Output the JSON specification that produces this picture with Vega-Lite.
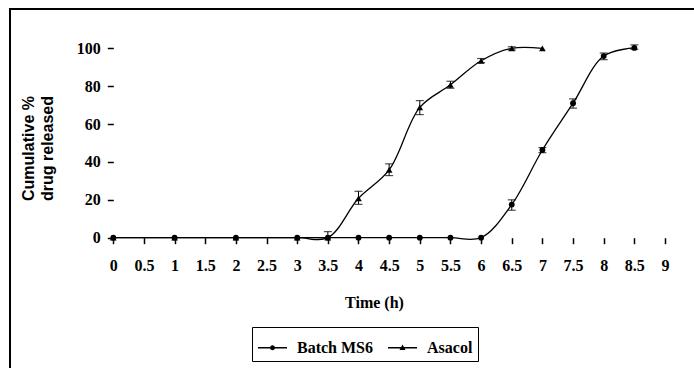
{
  "$schema": "https://vega.github.io/schema/vega-lite/v6.json",
  "width": 684,
  "height": 359,
  "padding": {"left": 10, "top": 9, "right": 0, "bottom": 0},
  "autosize": {"type": "none"},
  "background": "white",
  "config": {
    "font": "Liberation Serif",
    "view": {"stroke": "black", "strokeWidth": 2, "strokeDash": [684, 1043, 359]},
    "axis": {
      "grid": false,
      "domain": false,
      "tickColor": "black",
      "tickWidth": 1.5,
      "tickSize": 6,
      "labelColor": "black",
      "labelFont": "Liberation Serif",
      "labelFontWeight": "bold",
      "labelFontSize": 16,
      "titleColor": "black",
      "titleFontWeight": "bold"
    },
    "legend": {
      "labelFont": "Liberation Serif",
      "labelFontWeight": "bold",
      "labelFontSize": 16,
      "labelColor": "black"
    }
  },
  "datasets": {
    "release": [
      {"series": "Batch MS6", "time": 0, "value": 0, "lo": null, "hi": null},
      {"series": "Batch MS6", "time": 1, "value": 0, "lo": null, "hi": null},
      {"series": "Batch MS6", "time": 2, "value": 0, "lo": null, "hi": null},
      {"series": "Batch MS6", "time": 3, "value": 0, "lo": null, "hi": null},
      {"series": "Batch MS6", "time": 3.5, "value": 0, "lo": null, "hi": null},
      {"series": "Batch MS6", "time": 4, "value": 0, "lo": null, "hi": null},
      {"series": "Batch MS6", "time": 4.5, "value": 0, "lo": null, "hi": null},
      {"series": "Batch MS6", "time": 5, "value": 0, "lo": null, "hi": null},
      {"series": "Batch MS6", "time": 5.5, "value": 0, "lo": null, "hi": null},
      {"series": "Batch MS6", "time": 6, "value": 0, "lo": null, "hi": null},
      {"series": "Batch MS6", "time": 6.5, "value": 17.5, "lo": 14.5, "hi": 20},
      {"series": "Batch MS6", "time": 7, "value": 46.3, "lo": 44.9, "hi": 47.6},
      {"series": "Batch MS6", "time": 7.5, "value": 71, "lo": 68.4, "hi": 73.3},
      {"series": "Batch MS6", "time": 8, "value": 95.9, "lo": 94, "hi": 97.5},
      {"series": "Batch MS6", "time": 8.5, "value": 100.2, "lo": 99.5, "hi": 101.8},
      {"series": "Asacol", "time": 0, "value": 0, "lo": null, "hi": null},
      {"series": "Asacol", "time": 1, "value": 0, "lo": null, "hi": null},
      {"series": "Asacol", "time": 2, "value": 0, "lo": null, "hi": null},
      {"series": "Asacol", "time": 3, "value": 0, "lo": null, "hi": null},
      {"series": "Asacol", "time": 3.5, "value": 0, "lo": 0, "hi": 3.2},
      {"series": "Asacol", "time": 4, "value": 20.8, "lo": 17.6, "hi": 24.5},
      {"series": "Asacol", "time": 4.5, "value": 35.8, "lo": 32.8, "hi": 39},
      {"series": "Asacol", "time": 5, "value": 68.8, "lo": 65, "hi": 72.4},
      {"series": "Asacol", "time": 5.5, "value": 80.7, "lo": 78.9, "hi": 82.6},
      {"series": "Asacol", "time": 6, "value": 93.4, "lo": 92.4, "hi": 94.6},
      {"series": "Asacol", "time": 6.5, "value": 100, "lo": 99.1, "hi": 100.8},
      {"series": "Asacol", "time": 7, "value": 100, "lo": null, "hi": null}
    ]
  },
  "data": {"name": "release"},
  "encoding": {
    "x": {
      "field": "time",
      "type": "quantitative",
      "scale": {"domain": [-1.685, 9.473], "nice": false, "zero": false},
      "axis": {
        "orient": "bottom",
        "offset": -130.3,
        "values": [0, 0.5, 1, 1.5, 2, 2.5, 3, 3.5, 4, 4.5, 5, 5.5, 6, 6.5, 7, 7.5, 8, 8.5, 9],
        "format": "~g",
        "labelPadding": 14,
        "labelFont": "Liberation Serif",
        "labelFontWeight": "bold",
        "labelFontSize": 16,
        "labelFlush": false,
        "labelOverlap": false,
        "title": "Time (h)",
        "titleFont": "Liberation Serif",
        "titleFontSize": 16,
        "titleX": 364,
        "titleY": 70,
        "titleBaseline": "alphabetic"
      }
    },
    "y": {
      "field": "value",
      "type": "quantitative",
      "scale": {"domain": [-68.8, 120.75], "nice": false, "zero": false},
      "axis": {
        "orient": "left",
        "offset": -103.3,
        "values": [0, 20, 40, 60, 80, 100],
        "labelPadding": 7,
        "labelFont": "Liberation Serif",
        "labelFontWeight": "bold",
        "labelFontSize": 16,
        "labelFlush": false,
        "labelOverlap": false,
        "title": ["Cumulative %", "drug released"],
        "titleFont": "Liberation Sans",
        "titleFontSize": 16,
        "titleLineHeight": 19,
        "titleX": -80,
        "titleY": 139,
        "titleAngle": 270,
        "titleAlign": "center",
        "titleBaseline": "alphabetic"
      }
    }
  },
  "layer": [
    {
      "mark": {"type": "line", "interpolate": "catmull-rom", "color": "black", "strokeWidth": 1.3},
      "encoding": {
        "detail": {"field": "series"}
      }
    },
    {
      "transform": [{"filter": "datum.hi != null"}],
      "mark": {"type": "rule", "color": "black", "strokeWidth": 1},
      "encoding": {
        "y": {"field": "lo", "type": "quantitative"},
        "y2": {"field": "hi"}
      }
    },
    {
      "transform": [{"filter": "datum.hi != null"}],
      "mark": {"type": "tick", "orient": "horizontal", "color": "black", "size": 8, "thickness": 1.2},
      "encoding": {
        "y": {"field": "hi", "type": "quantitative"}
      }
    },
    {
      "transform": [{"filter": "datum.hi != null && datum.lo > 0"}],
      "mark": {"type": "tick", "orient": "horizontal", "color": "black", "size": 8, "thickness": 1.2},
      "encoding": {
        "y": {"field": "lo", "type": "quantitative"}
      }
    },
    {
      "transform": [{"filter": "datum.series == 'Batch MS6'"}],
      "mark": {"type": "point", "shape": "circle", "filled": true, "color": "black", "size": 34, "opacity": 1},
      "encoding": {}
    },
    {
      "transform": [{"filter": "datum.series == 'Asacol'"}],
      "mark": {"type": "point", "shape": "triangle-up", "filled": true, "color": "black", "size": 44, "opacity": 1},
      "encoding": {}
    },
    {
      "transform": [{"filter": "datum.time > 100"}],
      "mark": {"type": "point", "filled": true, "color": "black", "size": 841, "opacity": 1},
      "encoding": {
        "shape": {
          "field": "series",
          "type": "nominal",
          "scale": {
            "domain": ["Batch MS6", "Asacol"],
            "range": [
              "M-1,-0.05L1,-0.05L1,0.05L-1,0.05ZM-0.17,0A0.17,0.17,0,1,1,0.17,0A0.17,0.17,0,1,1,-0.17,0Z",
              "M-1,-0.05L1,-0.05L1,0.05L-1,0.05ZM-0.21,0.15L0,-0.22L0.21,0.15Z"
            ]
          },
          "legend": {
            "title": null,
            "orient": "none",
            "direction": "horizontal",
            "legendX": 242,
            "legendY": 318,
            "strokeColor": "black",
            "padding": 5,
            "symbolSize": 841,
            "symbolFillColor": "black",
            "symbolOpacity": 1,
            "labelFont": "Liberation Serif",
            "labelFontWeight": "bold",
            "labelFontSize": 16,
            "labelColor": "black",
            "labelOffset": 9,
            "columnPadding": 12
          }
        }
      }
    },
    {
      "data": {"values": [{}]},
      "mark": {"type": "rule", "color": "black", "strokeWidth": 2},
      "encoding": {
        "x": {"datum": 0},
        "x2": {"datum": 9},
        "y": {"datum": 0}
      }
    },
    {
      "data": {"values": [{}]},
      "mark": {"type": "rule", "color": "black", "strokeWidth": 1.5},
      "encoding": {
        "x": {"datum": 0},
        "y": {"datum": 0},
        "y2": {"datum": 100}
      }
    }
  ]
}
